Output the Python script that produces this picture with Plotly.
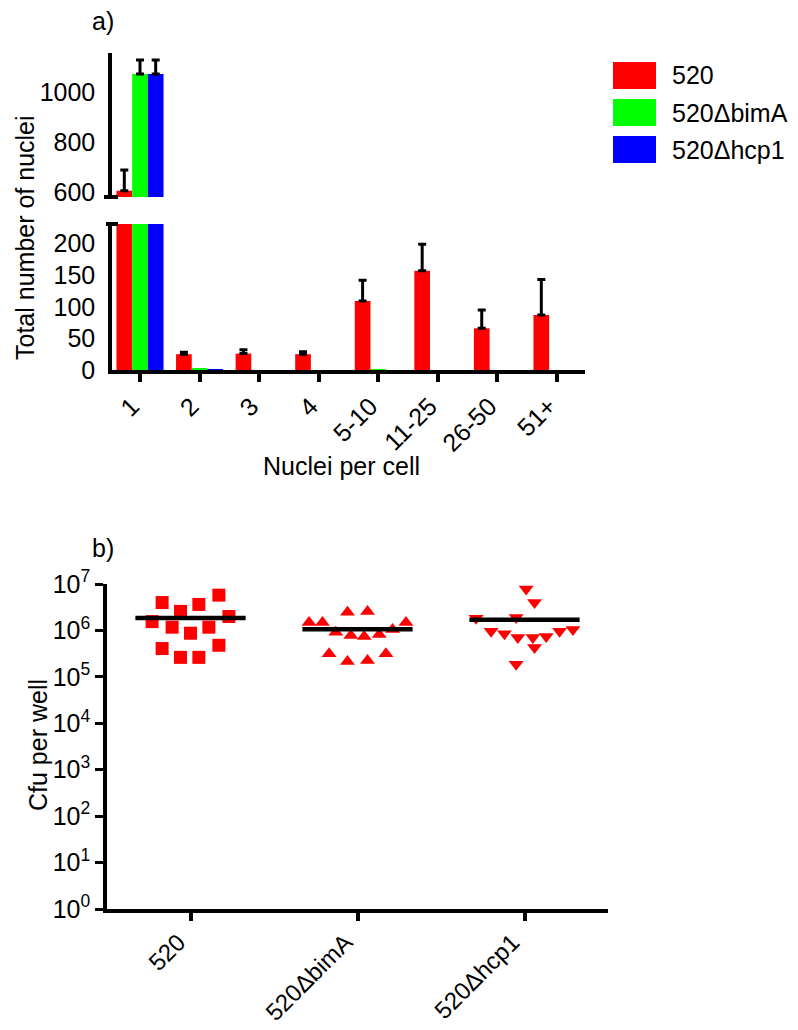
import numpy as np
import plotly.graph_objects as go

W, H = 798, 1030
OFF = 8  # browser default body margin
FONT = "Liberation Sans, Arial, sans-serif"

# ---------------- data: panel a ----------------
categories = ["1", "2", "3", "4", "5-10", "11-25", "26-50", "51+"]
series_names = ["520", "520\u0394bimA", "520\u0394hcp1"]
series_colors = ["#ff0000", "#00ff00", "#0000ff"]
val_520 = [605, 25, 26, 25, 109, 157, 66, 87]
err_520 = [83, 3, 6, 4, 33, 42, 29, 56]
val_bimA = [1072, 2, 0, 0, 1, 0, 0, 0]
err_bimA = [56, 0, 0, 0, 0, 0, 0, 0]
val_hcp1 = [1072, 1, 0, 0, 0, 0, 0, 0]
err_hcp1 = [56, 0, 0, 0, 0, 0, 0, 0]

# ---------------- data: panel b (log10 cfu per well) ----------------
strains = ["520", "520\u0394bimA", "520\u0394hcp1"]
log_cfu_520 = [6.60, 6.41, 6.56, 6.76, 6.19, 6.07, 5.94, 6.07, 6.30, 5.61, 5.42, 5.42, 5.68]
jit_520 = [-0.17, -0.06, 0.05, 0.17, -0.23, -0.11, 0.0, 0.11, 0.23, -0.17, -0.06, 0.05, 0.17]
log_cfu_bimA = [6.17, 6.17, 6.39, 6.41, 5.96, 5.89, 5.87, 5.91, 6.02, 6.17, 5.50, 5.33, 5.35, 5.50]
jit_bimA = [-0.29, -0.21, -0.06, 0.06, -0.13, -0.04, 0.04, 0.13, 0.21, 0.29, -0.17, -0.06, 0.06, 0.17]
log_cfu_hcp1 = [6.26, 6.28, 6.89, 6.60, 5.98, 5.93, 5.85, 5.85, 5.87, 5.98, 6.02, 5.63, 5.27]
jit_hcp1 = [-0.29, -0.05, 0.01, 0.06, -0.20, -0.12, -0.04, 0.05, 0.13, 0.21, 0.29, 0.06, -0.05]
y_tick_exps = [0, 1, 2, 3, 4, 5, 6, 7]


def px_x(x):
    return (x - OFF) / W


def px_y(y):
    return 1 - (y - OFF) / H


def trim_errors(e):
    # drop trailing zero errors so no error caps are drawn there
    last = max([i for i, v in enumerate(e) if v > 0], default=-1)
    return list(e[:last + 1])


fig = go.Figure()

vals = [val_520, val_bimA, val_hcp1]
errs = [err_520, err_bimA, err_hcp1]
for yax in ["y", "y2"]:
    for name, v, e, c in zip(series_names, vals, errs, series_colors):
        e_plot = trim_errors(e)
        fig.add_trace(go.Bar(
            x=categories, y=v, name=name, marker=dict(color=c, line=dict(width=0)),
            error_y=dict(type="data", symmetric=False, array=e_plot,
                         arrayminus=[0] * len(e_plot), color="black", thickness=3, width=4),
            xaxis="x", yaxis=yax, showlegend=False,
        ))

groups = [(log_cfu_520, jit_520, "square"),
          (log_cfu_bimA, jit_bimA, "triangle-up"),
          (log_cfu_hcp1, jit_hcp1, "triangle-down")]
for i, (lv, jt, sym) in enumerate(groups):
    yvals = [10 ** v for v in lv]
    fig.add_trace(go.Scatter(
        x=[i + j for j in jt], y=yvals, mode="markers",
        marker=dict(symbol=sym, size=13, color="#ff0000", line=dict(width=0)),
        xaxis="x3", yaxis="y3", showlegend=False,
    ))
    m = float(np.mean(yvals))
    fig.add_trace(go.Scatter(
        x=[i - 0.33, i + 0.33], y=[m, m], mode="lines",
        line=dict(color="black", width=4.5), xaxis="x3", yaxis="y3", showlegend=False,
    ))

axis_common = dict(showline=True, linecolor="black", linewidth=3.5, showgrid=False,
                   zeroline=False, automargin=False)
F25 = dict(family=FONT, size=25, color="black")
F24 = dict(family=FONT, size=24, color="black")

fig.update_layout(
    width=W, height=H, margin=dict(l=0, r=0, t=0, b=0, pad=0, autoexpand=False),
    paper_bgcolor="white", plot_bgcolor="white",
    barmode="group", bargap=0.21, bargroupgap=0,
    font=dict(family=FONT, color="black"),
    xaxis=dict(domain=[px_x(112), px_x(585)], anchor="y", type="category",
               range=[-0.47, 7.47], ticks="outside", ticklen=8, tickwidth=3.5,
               tickcolor="black", tickangle=-45, tickfont=F25, ticklabelshift=-8,
               **axis_common),
    yaxis=dict(domain=[px_y(370), px_y(224)], anchor="x", range=[0, 231],
               tickvals=[0, 50, 100, 150, 200], ticks="", ticklabelstandoff=8,
               tickfont=F25, **axis_common),
    yaxis2=dict(domain=[px_y(197), px_y(53)], anchor="x", range=[580, 1156],
                tickvals=[600, 800, 1000], ticks="", ticklabelstandoff=8,
                tickfont=F25, **axis_common),
    xaxis3=dict(domain=[px_x(107), px_x(608)], anchor="y3", range=[-0.5, 2.5],
                tickvals=[0, 1, 2], ticktext=strains, ticks="outside", ticklen=8,
                tickwidth=3.5, tickcolor="black", tickangle=-45, tickfont=F24,
                ticklabelshift=-12, ticklabelstandoff=-2, **axis_common),
    yaxis3=dict(domain=[px_y(909), px_y(584)], anchor="x3", type="log", range=[0, 7],
                tickvals=[10 ** e for e in y_tick_exps],
                ticktext=["10<sup>%d</sup>" % e for e in y_tick_exps],
                ticks="outside", ticklen=8, tickwidth=3, tickcolor="black",
                tickfont=F25, **axis_common),
)

shapes = []
shapes.append(dict(type="line", xref="paper", yref="paper", x0=px_x(104), x1=px_x(118),
                   y0=px_y(197), y1=px_y(197), line=dict(color="black", width=4)))
shapes.append(dict(type="line", xref="paper", yref="paper", x0=px_x(106), x1=px_x(118),
                   y0=px_y(224), y1=px_y(224), line=dict(color="black", width=4)))
annotations = []
for k, (name, c) in enumerate(zip(series_names, series_colors)):
    top = 62 + 37 * k
    shapes.append(dict(type="rect", xref="paper", yref="paper", x0=px_x(613), x1=px_x(656),
                       y0=px_y(top + 27), y1=px_y(top), fillcolor=c, line=dict(width=0)))
    annotations.append(dict(text=name, xref="paper", yref="paper", x=px_x(670),
                            y=px_y(top + 13.5), xanchor="left", yanchor="middle",
                            showarrow=False, font=F25))

txt = dict(showarrow=False, xref="paper", yref="paper", font=F25)
annotations += [
    dict(text="a)", x=px_x(103), y=px_y(21), xanchor="center", yanchor="middle", **txt),
    dict(text="b)", x=px_x(103), y=px_y(548), xanchor="center", yanchor="middle", **txt),
    dict(text="Total number of nuclei", x=px_x(25), y=px_y(238), textangle=-90,
         xanchor="center", yanchor="middle", **txt),
    dict(text="Nuclei per cell", x=px_x(341), y=px_y(466), xanchor="center",
         yanchor="middle", **txt),
    dict(text="Cfu per well", x=px_x(38), y=px_y(745), textangle=-90,
         xanchor="center", yanchor="middle", **txt),
]
fig.update_layout(shapes=shapes, annotations=annotations)

fig.write_html("out.html")
